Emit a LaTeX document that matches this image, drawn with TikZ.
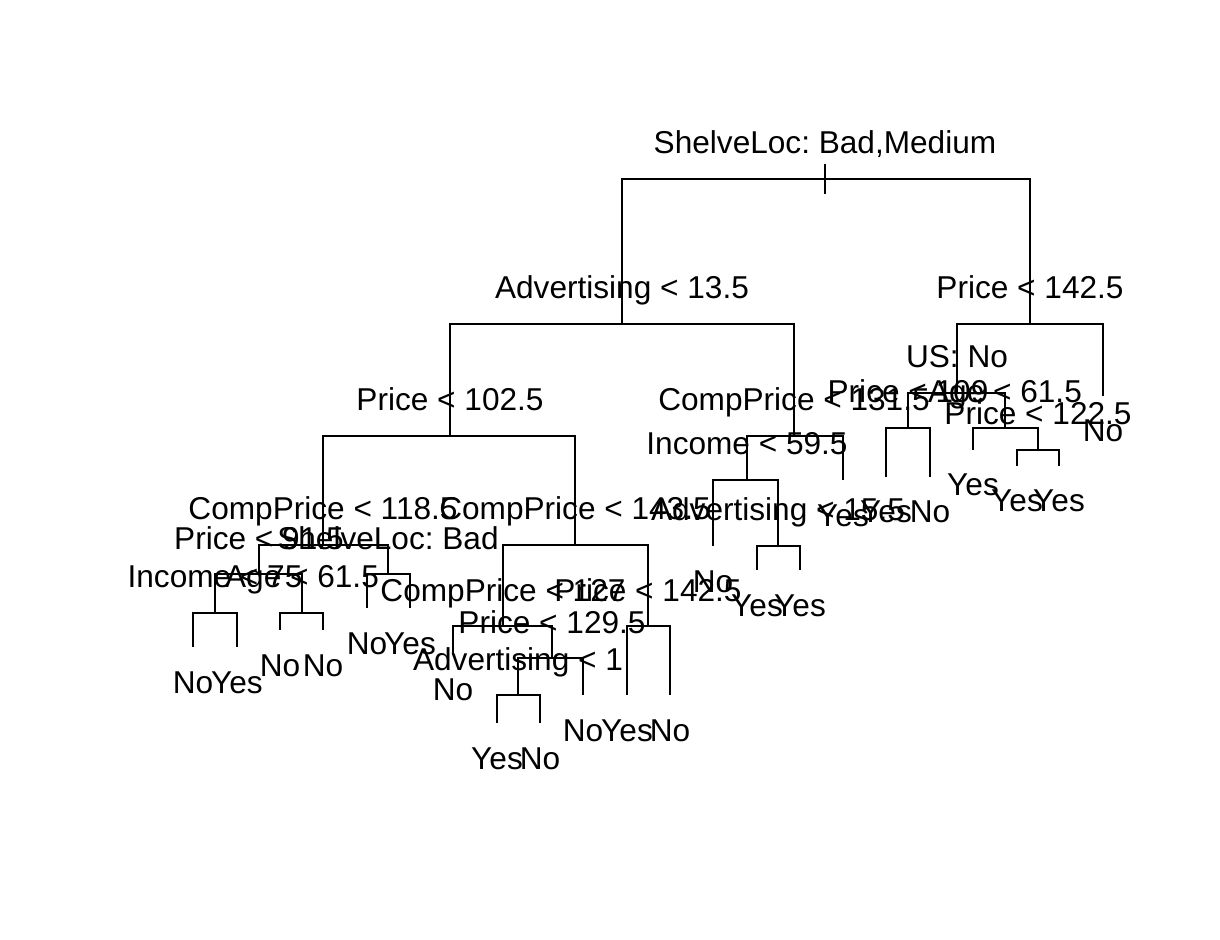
\documentclass[tikz,border=0pt]{standalone}
\usepackage{fontspec}
\setmainfont{Liberation Sans}
\usetikzlibrary{positioning}
\frenchspacing

\begin{document}
\begin{tikzpicture}[x = 0.5pt, y = -0.5pt, line width = 1pt]
\tikzstyle{SplitStyle}=[anchor = base, inner sep = 0pt,
                        yshift = 12.5pt,
                        font = \fontsize{15.8}{18}\selectfont]
\tikzstyle{LeafStyle}=[anchor = base, inner sep = 0pt,
                       yshift = -23pt,
                       font = \fontsize{15.8}{18}\selectfont]
\useasboundingbox (0,0) rectangle (1220,940);
% split points (x, bar) and leaf ends
\coordinate (v0) at (825,179);
\coordinate (v0t) at (825,164);
\coordinate (v0b) at (825,194);
\coordinate (v1) at (622,324);
\coordinate (v2) at (1030,324);
\coordinate (v3) at (450,436);
\coordinate (v4) at (794,436);
\coordinate (v5) at (957,393);
\coordinate (v6) at (1103,396);
\coordinate (v7) at (323,545);
\coordinate (v8) at (575,545);
\coordinate (v9) at (747,480);
\coordinate (v10) at (843,480);
\coordinate (v11) at (908,428);
\coordinate (v12) at (1005,428);
\coordinate (v13) at (259,574);
\coordinate (v14) at (388,574);
\coordinate (v15) at (503,626);
\coordinate (v16) at (648,626);
\coordinate (v17) at (713,546);
\coordinate (v18) at (778,546);
\coordinate (v19) at (886,477);
\coordinate (v20) at (930,477);
\coordinate (v21) at (973,450);
\coordinate (v22) at (1038,450);
\coordinate (v23) at (215,613);
\coordinate (v24) at (302,613);
\coordinate (v25) at (367,608);
\coordinate (v26) at (410,608);
\coordinate (v27) at (453,654);
\coordinate (v28) at (552,658);
\coordinate (v29) at (627,695);
\coordinate (v30) at (670,695);
\coordinate (v31) at (757,570);
\coordinate (v32) at (800,570);
\coordinate (v33) at (1017,466);
\coordinate (v34) at (1059,466);
\coordinate (v35) at (193,647);
\coordinate (v36) at (237,647);
\coordinate (v37) at (280,630);
\coordinate (v38) at (323,630);
\coordinate (v39) at (518,695);
\coordinate (v40) at (583,695);
\coordinate (v41) at (497,723);
\coordinate (v42) at (540,723);
% branches
\draw (v0t) -- (v0b);
\draw (v0) -| (v1);
\draw (v0) -| (v2);
\draw (v1) -| (v3);
\draw (v1) -| (v4);
\draw (v2) -| (v5);
\draw (v2) -| (v6);
\draw (v3) -| (v7);
\draw (v3) -| (v8);
\draw (v4) -| (v9);
\draw (v4) -| (v10);
\draw (v5) -| (v11);
\draw (v5) -| (v12);
\draw (v7) -| (v13);
\draw (v7) -| (v14);
\draw (v8) -| (v15);
\draw (v8) -| (v16);
\draw (v9) -| (v17);
\draw (v9) -| (v18);
\draw (v11) -| (v19);
\draw (v11) -| (v20);
\draw (v12) -| (v21);
\draw (v12) -| (v22);
\draw (v13) -| (v23);
\draw (v13) -| (v24);
\draw (v14) -| (v25);
\draw (v14) -| (v26);
\draw (v15) -| (v27);
\draw (v15) -| (v28);
\draw (v16) -| (v29);
\draw (v16) -| (v30);
\draw (v18) -| (v31);
\draw (v18) -| (v32);
\draw (v22) -| (v33);
\draw (v22) -| (v34);
\draw (v23) -| (v35);
\draw (v23) -| (v36);
\draw (v24) -| (v37);
\draw (v24) -| (v38);
\draw (v28) -| (v39);
\draw (v28) -| (v40);
\draw (v39) -| (v41);
\draw (v39) -| (v42);
% split labels
\node[SplitStyle] (s0) at (v0) {ShelveLoc: Bad,Medium};
\node[SplitStyle] (s1) at (v1) {Advertising < 13.5};
\node[SplitStyle] (s2) at (v2) {Price < 142.5};
\node[SplitStyle] (s3) at (v3) {Price < 102.5};
\node[SplitStyle] (s4) at (v4) {CompPrice < 131.5};
\node[SplitStyle] (s5) at (v5) {US: No};
\node[SplitStyle] (s7) at (v7) {CompPrice < 118.5};
\node[SplitStyle] (s8) at (v8) {CompPrice < 143.5};
\node[SplitStyle] (s9) at (v9) {Income < 59.5};
\node[SplitStyle] (s11) at (v11) {Price < 109};
\node[SplitStyle] (s12) at (v12) {Age < 61.5};
\node[SplitStyle] (s13) at (v13) {Price < 91.5};
\node[SplitStyle] (s14) at (v14) {ShelveLoc: Bad};
\node[SplitStyle] (s15) at (v15) {CompPrice < 127};
\node[SplitStyle] (s16) at (v16) {Price < 142.5};
\node[SplitStyle] (s18) at (v18) {Advertising < 15.5};
\node[SplitStyle] (s22) at (v22) {Price < 122.5};
\node[SplitStyle] (s23) at (v23) {Income < 75};
\node[SplitStyle] (s24) at (v24) {Age < 61.5};
\node[SplitStyle] (s28) at (v28) {Price < 129.5};
\node[SplitStyle] (s39) at (v39) {Advertising < 1};
% leaf labels
\node[LeafStyle] (l6) at (v6) {No};
\node[LeafStyle] (l10) at (v10) {Yes};
\node[LeafStyle] (l17) at (v17) {No};
\node[LeafStyle] (l19) at (v19) {Yes};
\node[LeafStyle] (l20) at (v20) {No};
\node[LeafStyle] (l21) at (v21) {Yes};
\node[LeafStyle] (l25) at (v25) {No};
\node[LeafStyle] (l26) at (v26) {Yes};
\node[LeafStyle] (l27) at (v27) {No};
\node[LeafStyle] (l29) at (v29) {Yes};
\node[LeafStyle] (l30) at (v30) {No};
\node[LeafStyle] (l31) at (v31) {Yes};
\node[LeafStyle] (l32) at (v32) {Yes};
\node[LeafStyle] (l33) at (v33) {Yes};
\node[LeafStyle] (l34) at (v34) {Yes};
\node[LeafStyle] (l35) at (v35) {No};
\node[LeafStyle] (l36) at (v36) {Yes};
\node[LeafStyle] (l37) at (v37) {No};
\node[LeafStyle] (l38) at (v38) {No};
\node[LeafStyle] (l40) at (v40) {No};
\node[LeafStyle] (l41) at (v41) {Yes};
\node[LeafStyle] (l42) at (v42) {No};
\end{tikzpicture}
\end{document}
